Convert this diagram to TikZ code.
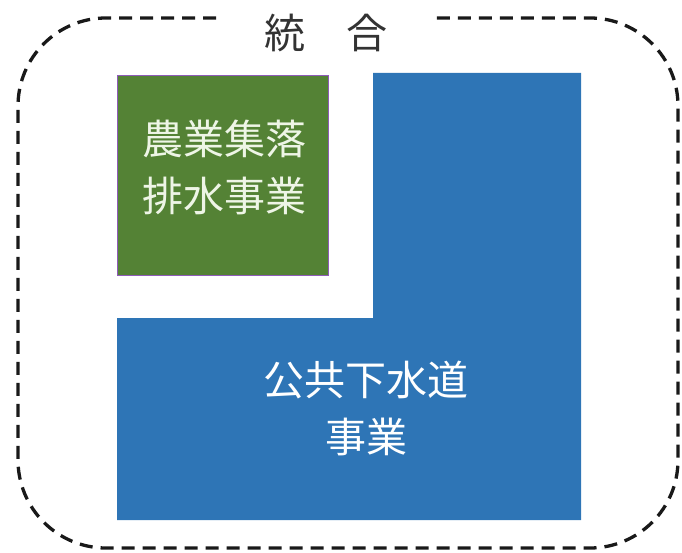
\documentclass[tikz,border=0pt]{standalone}
\usepackage{fontspec}
\newfontfamily\jpfont{Noto Sans CJK JP}
\definecolor{agrgreen}{HTML}{548235}
\definecolor{sewblue}{HTML}{2E75B6}
\definecolor{boxedge}{HTML}{8E5CB8}
\definecolor{lighttext}{HTML}{EEF5E6}
\tikzset{
  dashframe/.style={draw=black!90, line width=3.3pt, dash pattern=on 13pt off 8pt, rounded corners=88pt},
  jptext/.style={font=\jpfont\fontsize{41}{57}\selectfont, align=center, inner sep=0pt},
}
\begin{document}
\begin{tikzpicture}[x=1pt,y=-1pt]
\useasboundingbox (0,0) rectangle (682,553);
% outer dashed frame with gap for title
\draw[dashframe] (216,18) -- (18,18) -- (18,548) -- (678,548) -- (678,18) -- (434,18);
\node[jptext, text=black!80] (title) at (326,33) {統　合};
% green box
\node[draw=boxedge, line width=0.8pt, fill=agrgreen, minimum width=211pt, minimum height=200pt, inner sep=0pt, anchor=north west] (agri) at (117,75) {};
\node[jptext, text=lighttext] (agritext) at (224,167) {農業集落\\排水事業};
% blue L-shape
\fill[sewblue] (373,73) -- (581,73) -- (581,520) -- (117,520) -- (117,318) -- (373,318) -- cycle;
\node[jptext, text=white] (sewtext) at (366,408) {公共下水道\\事業};
\end{tikzpicture}
\end{document}
